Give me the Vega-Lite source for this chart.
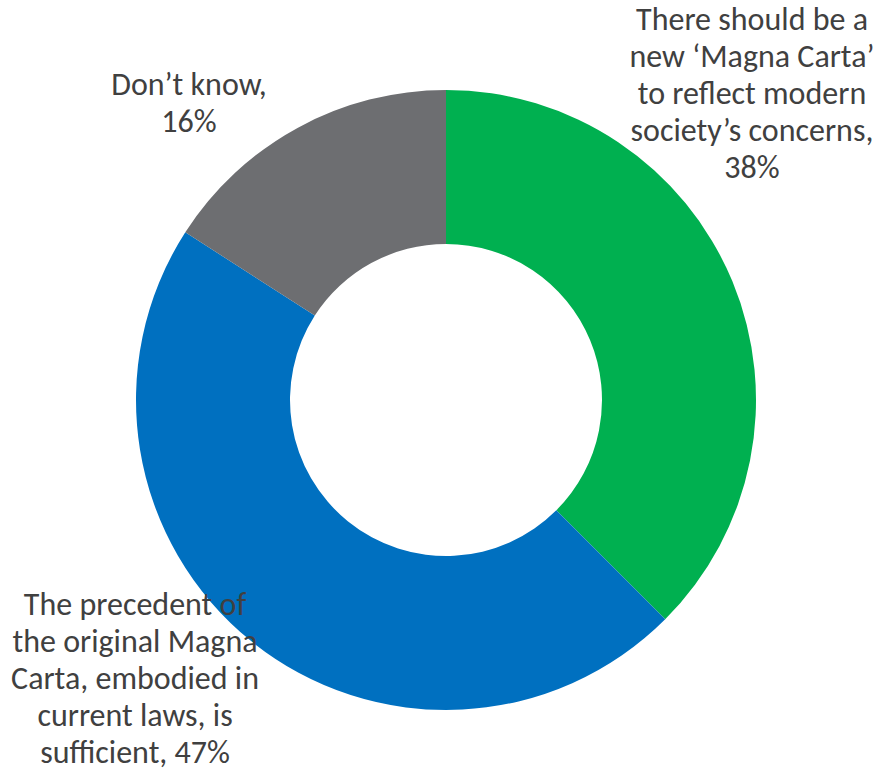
{
  "$schema": "https://vega.github.io/schema/vega-lite/v6.json",
  "autosize": "none",
  "width": 892,
  "height": 800,
  "padding": 0,
  "background": "white",
  "config": {"view": {"stroke": null}},
  "data": {
    "values": [
      {"answer": "There should be a new ‘Magna Carta’ to reflect modern society’s concerns", "share": 37.5, "label": "There should be a\nnew ‘Magna Carta’\nto reflect modern\nsociety’s concerns,\n38%", "order": 1},
      {"answer": "The precedent of the original Magna Carta, embodied in current laws, is sufficient", "share": 46.6, "label": "The precedent of\nthe original Magna\nCarta, embodied in\ncurrent laws, is\nsufficient, 47%", "order": 2},
      {"answer": "Don’t know", "share": 15.9, "label": "Don’t know,\n16%", "order": 3}
    ]
  },
  "layer": [
    {
      "mark": {"type": "arc", "outerRadius": 310, "innerRadius": 156},
      "encoding": {
        "theta": {"field": "share", "type": "quantitative", "stack": true},
        "order": {"field": "order", "type": "quantitative"},
        "color": {
          "field": "answer",
          "type": "nominal",
          "scale": {
            "domain": ["There should be a new ‘Magna Carta’ to reflect modern society’s concerns", "The precedent of the original Magna Carta, embodied in current laws, is sufficient", "Don’t know"],
            "range": ["#00B050", "#0070C0", "#6D6E71"]
          },
          "legend": null
        }
      }
    },
    {
      "transform": [{"filter": "datum.order == 1"}],
      "mark": {"type": "text", "radius": 0, "dx": 306, "dy": -380, "align": "center", "baseline": "middle", "lineBreak": "\n", "lineHeight": 37, "font": "Carlito, Lato", "fontSize": 32, "color": "#404040"},
      "encoding": {"theta": {"field": "share", "type": "quantitative"}, "text": {"field": "label"}}
    },
    {
      "transform": [{"filter": "datum.order == 2"}],
      "mark": {"type": "text", "radius": 0, "dx": -311, "dy": 205, "align": "center", "baseline": "middle", "lineBreak": "\n", "lineHeight": 37, "font": "Carlito, Lato", "fontSize": 32, "color": "#404040"},
      "encoding": {"theta": {"field": "share", "type": "quantitative"}, "text": {"field": "label"}}
    },
    {
      "transform": [{"filter": "datum.order == 3"}],
      "mark": {"type": "text", "radius": 0, "dx": -257, "dy": -315, "align": "center", "baseline": "middle", "lineBreak": "\n", "lineHeight": 37, "font": "Carlito, Lato", "fontSize": 32, "color": "#404040"},
      "encoding": {"theta": {"field": "share", "type": "quantitative"}, "text": {"field": "label"}}
    }
  ]
}
